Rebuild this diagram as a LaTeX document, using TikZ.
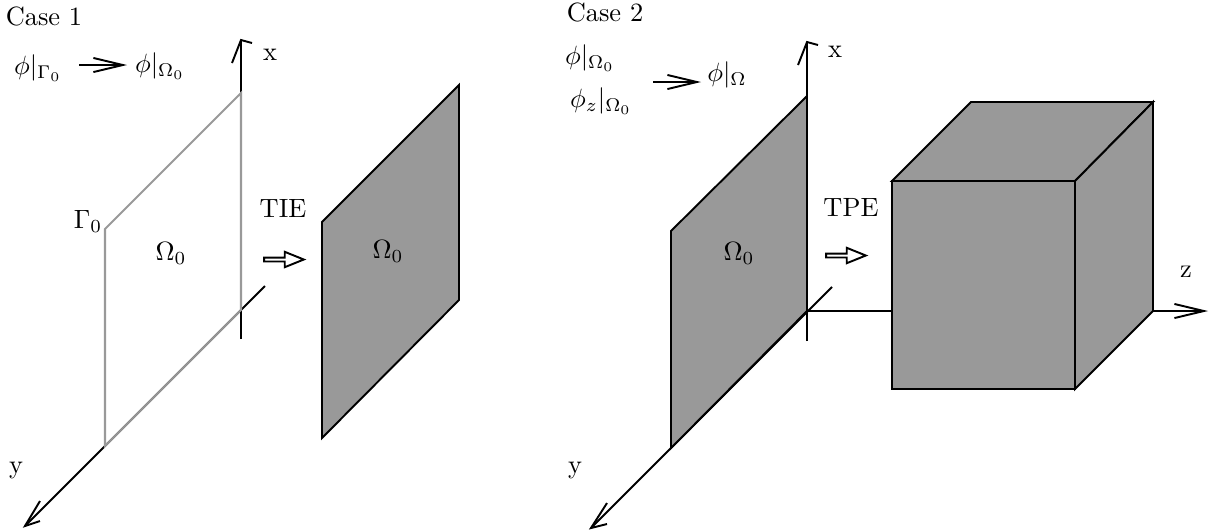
\documentclass[tikz,border=0pt]{standalone}
\usepackage{amsmath,amssymb}
\usetikzlibrary{arrows.meta, shapes.arrows}
\definecolor{panelgray}{RGB}{153, 153, 153}
\tikzset{
  every path/.style={line width=0.75pt},
  labeltext/.style={scale=1.03},
  panel/.style={draw=black, fill=panelgray, line join=miter},
  rim/.style={draw=panelgray, line width=0.8pt},
  axisline/.style={draw=black},
  barbline/.style={
    -{Straight Barb[length=11.5pt, width=5.5pt]},
    draw=black
  },
  hollowarrow/.style={
    single arrow,
    draw=black,
    fill=white,
    inner sep=0pt,
    minimum height=15.5pt,
    minimum width=6pt,
    single arrow head extend=1.1pt,
    single arrow tip angle=44
  }
}

\begin{document}
\begin{tikzpicture}[x=0.39pt, y=-0.39pt]
  \useasboundingbox (0, 0) rectangle (1218, 531);

  % Case 1
  \coordinate (xtipa) at (241, 40);
  \coordinate (xenda) at (241, 339);
  \coordinate (ytipa) at (25, 526);
  \coordinate (yenda) at (265, 286);

  \draw[axisline] (xenda) -- (xtipa);
  \draw[axisline] (yenda) -- (ytipa);
  \draw[axisline] (232, 63) -- (xtipa) -- (252, 43);
  \draw[axisline] (40, 501) -- (ytipa) -- (40, 521);
  \draw[rim] (105, 229) -- (241, 93) -- (241, 310) -- (105, 446) -- cycle;
  \draw[panel] (322, 222) -- (459, 85) -- (459, 300) -- (322, 438) -- cycle;

  \node[labeltext] (casea) at (44, 16) {Case 1};
  \node[labeltext] (phia) at (38, 68) {$\phi|_{\Gamma_0}$};
  \node[labeltext] (phib) at (160, 66) {$\phi|_{\Omega_0}$};
  \draw[barbline] (79, 65) -- (127, 65);
  \node[labeltext] (xlaba) at (270, 55) {x};
  \node[labeltext] (ylaba) at (16, 470) {y};
  \node[labeltext] (gammaa) at (88, 221) {$\Gamma_0$};
  \node[labeltext] (omegaa) at (171, 253) {$\Omega_0$};
  \node[labeltext] (omegab) at (388, 251) {$\Omega_0$};
  \node[labeltext] (tie) at (283, 208) {TIE};
  \node[hollowarrow] (tiearrow) at (281.5, 259.5) {};

  % Case 2
  \coordinate (xtipb) at (807, 42);
  \coordinate (xendb) at (807, 341);
  \coordinate (ytipb) at (591, 528);
  \coordinate (yendb) at (832, 287);
  \coordinate (ztail) at (807, 311);
  \coordinate (ztip) at (1208, 311);

  \draw[axisline] (yendb) -- (ytipb);
  \draw[barbline] (ztail) -- (ztip);
  \draw[panel] (671, 231) -- (807, 96) -- (807, 311) -- (671, 448) -- cycle;
  \draw[axisline] (xendb) -- (xtipb);
  \draw[axisline] (798, 65) -- (xtipb) -- (818, 45);
  \draw[axisline] (607, 503) -- (ytipb) -- (607, 524);

  \draw[panel] (892, 181) -- (971, 102) -- (1153, 102) -- (1075, 181) -- cycle;
  \draw[panel] (1075, 181) -- (1153, 102) -- (1153, 311) -- (1075, 389) -- cycle;
  \draw[panel] (892, 181) rectangle (1075, 389);

  \node[labeltext] (caseb) at (605, 12) {Case 2};
  \node[labeltext] (phic) at (590, 58) {$\phi|_{\Omega_0}$};
  \node[labeltext] (phid) at (601, 101) {$\phi_z|_{\Omega_0}$};
  \node[labeltext] (phie) at (727, 75) {$\phi|_{\Omega}$};
  \draw[barbline] (653, 82) -- (701, 82);
  \node[labeltext] (xlabb) at (835, 52) {x};
  \node[labeltext] (ylabb) at (575, 470) {y};
  \node[labeltext] (zlab) at (1186, 272) {z};
  \node[labeltext] (omegac) at (739, 253) {$\Omega_0$};
  \node[labeltext] (tpe) at (851, 207) {TPE};
  \node[hollowarrow] (tpearrow) at (843.5, 255.5) {};
\end{tikzpicture}
\end{document}
